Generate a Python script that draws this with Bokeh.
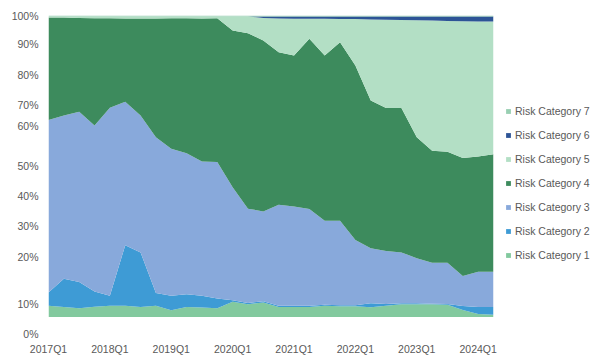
from bokeh.plotting import figure
from bokeh.models import FixedTicker, Legend, LegendItem, ColumnDataSource
from bokeh.transform import stack
from bokeh.embed import file_html
from bokeh.resources import INLINE

quarters = [
    "2017Q1", "2017Q2", "2017Q3", "2017Q4",
    "2018Q1", "2018Q2", "2018Q3", "2018Q4",
    "2019Q1", "2019Q2", "2019Q3", "2019Q4",
    "2020Q1", "2020Q2", "2020Q3", "2020Q4",
    "2021Q1", "2021Q2", "2021Q3", "2021Q4",
    "2022Q1", "2022Q2", "2022Q3", "2022Q4",
    "2023Q1", "2023Q2", "2023Q3", "2023Q4",
    "2024Q1", "2024Q2",
]

# shares in percent per quarter
cat1 = [3.7, 3.3, 2.9, 3.4, 3.7, 3.7, 3.3, 3.7, 2.2, 3.3, 3.1, 2.9, 5.0, 4.2, 4.8,
        3.3, 3.3, 3.3, 3.7, 3.5, 3.5, 3.2, 3.7, 4.2, 4.2, 4.2, 4.0, 2.3, 1.0, 0.7]
cat2 = [4.4, 9.4, 8.7, 5.0, 3.3, 20.1, 18.1, 4.2, 4.8, 4.2, 3.9, 3.2, 0.5, 0.4, 0.4,
        0.4, 0.4, 0.4, 0.3, 0.4, 0.4, 1.3, 0.6, 0.3, 0.3, 0.2, 0.3, 1.3, 2.3, 2.6]
cat3 = [57.2, 54.1, 56.5, 55.1, 62.4, 47.6, 45.4, 51.7, 48.8, 46.8, 44.6, 45.3, 37.5, 31.3, 29.8,
        33.5, 32.9, 32.1, 27.9, 28.0, 21.6, 18.3, 17.6, 16.9, 15.0, 13.6, 13.7, 10.0, 11.7, 11.7]
cat4 = [34.0, 32.5, 31.1, 35.6, 29.7, 27.6, 32.2, 39.4, 43.3, 44.8, 47.4, 47.7, 52.0, 58.2, 56.7,
        50.6, 50.1, 56.5, 54.8, 59.2, 57.9, 49.0, 47.4, 47.9, 40.1, 37.1, 36.8, 39.1, 38.2, 39.0]
cat5 = [0.4, 0.4, 0.5, 0.6, 0.6, 0.7, 0.7, 0.7, 0.6, 0.6, 0.7, 0.6, 4.7, 5.6, 7.5,
        11.2, 12.2, 6.6, 12.2, 7.7, 15.4, 26.9, 29.3, 29.2, 38.8, 43.2, 43.4, 45.4, 44.8, 44.0]
cat6 = [0.0, 0.0, 0.0, 0.0, 0.0, 0.0, 0.0, 0.0, 0.0, 0.0, 0.0, 0.0, 0.0, 0.0, 0.5,
        0.7, 0.8, 0.8, 0.8, 0.9, 0.9, 1.0, 1.1, 1.2, 1.3, 1.4, 1.5, 1.6, 1.7, 1.7]
cat7 = [0.3, 0.3, 0.3, 0.3, 0.3, 0.3, 0.3, 0.3, 0.3, 0.3, 0.3, 0.3, 0.3, 0.3, 0.3,
        0.3, 0.3, 0.3, 0.3, 0.3, 0.3, 0.3, 0.3, 0.3, 0.3, 0.3, 0.3, 0.3, 0.3, 0.3]

categories = ["Risk Category 1", "Risk Category 2", "Risk Category 3", "Risk Category 4",
              "Risk Category 5", "Risk Category 6", "Risk Category 7"]
colors = ["#82c99e", "#3e9bd5", "#88a9db", "#3d8b5d", "#b3dfc5", "#2d5496", "#98cfb2"]

y_tick_labels = ["0%", "10%", "20%", "30%", "40%", "50%", "60%", "70%", "80%", "90%", "100%"]
# where each y label sits on the drawn axis
y_tick_pos = [-0.0555, 0.0442, 0.1993, 0.3, 0.3997, 0.5007, 0.6336, 0.7033, 0.803, 0.9047, 1.0]

series = [cat1, cat2, cat3, cat4, cat5, cat6, cat7]
names = ["c%d" % (k + 1) for k in range(len(series))]
n = len(quarters)
totals = [sum(s[i] for s in series) for i in range(n)]
data = {"x": list(range(n))}
for nm, s in zip(names, series):
    data[nm] = [s[i] / totals[i] for i in range(n)]
src = ColumnDataSource(data)

FONT = "Liberation Sans"
GREY = "#595959"

p = figure(frame_width=445, frame_height=321,
           x_range=(0, n - 1), y_range=(-0.065, 1.0),
           output_backend="svg", toolbar_location=None,
           min_border_left=48, min_border_top=15, min_border_right=0, min_border_bottom=0)

p.varea_stack(stackers=names, x="x", color=colors, source=src)

proxies = []
for k, nm in enumerate(names):
    r = p.scatter(x="x", y=stack(*names[:k + 1]), source=src, size=0, marker="square",
                  fill_color=colors[k], line_color=None)
    proxies.append(r)

items = [LegendItem(label=categories[k], renderers=[proxies[k]]) for k in reversed(range(len(names)))]
legend = Legend(items=items, location=(9, 74.3), orientation="vertical",
                glyph_width=12, glyph_height=14, label_height=14, spacing=10,
                label_standoff=1, padding=0, margin=9,
                border_line_color=None, background_fill_alpha=0,
                label_text_font=FONT, label_text_font_size="10.5px", label_text_color=GREY)
p.add_layout(legend, "right")

p.xaxis.ticker = FixedTicker(ticks=list(range(0, n, 4)))
p.xaxis.major_label_overrides = {i: quarters[i] for i in range(0, n, 4)}
p.yaxis.ticker = FixedTicker(ticks=y_tick_pos)
p.yaxis.major_label_overrides = dict(zip(y_tick_pos, y_tick_labels))

p.axis.axis_line_color = None
p.axis.major_tick_line_color = None
p.axis.minor_tick_line_color = None
p.axis.major_tick_out = 0
p.axis.major_tick_in = 0
p.axis.major_label_text_font = FONT
p.axis.major_label_text_font_size = "10.5px"
p.axis.major_label_text_color = GREY
p.yaxis.major_label_standoff = 10
p.xaxis.major_label_standoff = 6

p.grid.visible = False
p.outline_line_color = None
p.background_fill_color = "white"
p.border_fill_color = "white"

open("out.html", "w").write(file_html(p, INLINE))
